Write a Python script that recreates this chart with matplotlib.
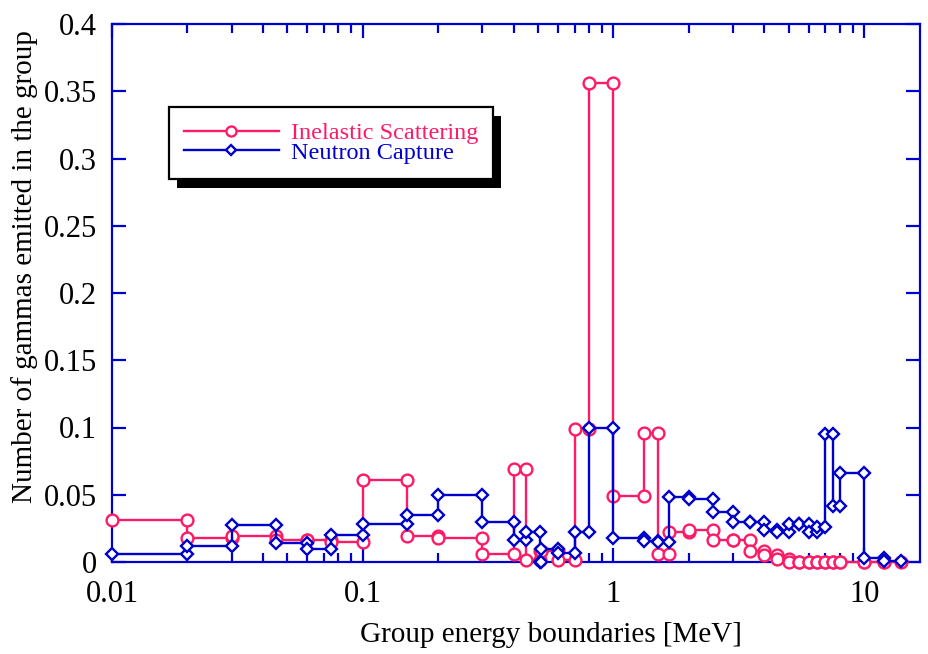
import numpy as np
import matplotlib
matplotlib.use('Agg')
import matplotlib.pyplot as plt
from matplotlib.patches import Rectangle
from matplotlib.ticker import FixedLocator, NullFormatter, FixedFormatter

# Group energy boundaries [MeV]
edges = [0.01, 0.02, 0.03, 0.045, 0.06, 0.075, 0.1, 0.15, 0.2, 0.3,
         0.4, 0.45, 0.51, 0.512, 0.6, 0.7, 0.8, 1.0,
         1.33, 1.5, 1.66, 2.0, 2.5, 3.0, 3.5, 4.0,
         4.5, 5.0, 5.5, 6.0, 6.5, 7.0, 7.5, 8.0,
         10.0, 12.0, 14.0]

# Number of gammas emitted in each group
inelastic = [0.031, 0.018, 0.019, 0.016, 0.016, 0.015, 0.061, 0.019, 0.0175, 0.006,
             0.069, 0.0015, 0.008, 0.008, 0.0015, 0.099, 0.356,
             0.049, 0.096, 0.006, 0.022, 0.0235, 0.016, 0.016, 0.008,
             0.005, 0.002, 0.0, 0.0, 0.0, 0.0, 0.0, 0.0,
             0.0, 0.0, 0.0]
capture = [0.006, 0.012, 0.0275, 0.0144, 0.0096, 0.020, 0.028, 0.035, 0.050, 0.030,
           0.0164, 0.0223, 0.0, 0.010, 0.0065, 0.0223, 0.0994,
           0.018, 0.0155, 0.015, 0.048, 0.047, 0.0374, 0.030, 0.030,
           0.024, 0.022, 0.028, 0.028, 0.022, 0.026, 0.095, 0.042,
           0.066, 0.0027, 0.0008]

labels = ['Inelastic Scattering', 'Neutron Capture']
xticks = [0.01, 0.1, 1, 10]
xticklabels = ['0.01', '0.1', '1', '10']
yticks = [0, 0.05, 0.1, 0.15, 0.2, 0.25, 0.3, 0.35, 0.4]
yticklabels = ['0', '0.05', '0.1', '0.15', '0.2', '0.25', '0.3', '0.35', '0.4']

PINK = '#ff1a66'
BLUE = '#0000cc'
SERIF = ['Liberation Serif', 'DejaVu Serif']

fig = plt.figure(figsize=(9.29, 6.54), dpi=100)
ax = fig.add_axes([112/929, 1-562/654, 808/929, 538/654])

def steps(e, v):
    e = np.asarray(e, float)
    v = np.asarray(v, float)
    xs = np.repeat(e, 2)[1:-1]
    ys = np.repeat(v, 2)
    return xs, ys

x1, y1 = steps(edges, inelastic)
x2, y2 = steps(edges, capture)

ax.plot(x1, y1, color=PINK, lw=1.7, marker='o', ms=8.5, mfc='white',
        mec=PINK, mew=1.7, clip_on=False, zorder=3, label=labels[0])
ax.plot(x2, y2, color=BLUE, lw=1.7, marker='D', ms=6.5, mfc='white',
        mec=BLUE, mew=1.7, clip_on=False, zorder=4, label=labels[1])

ax.set_xscale('log')
ax.set_xlim(0.01, 16.7)
ax.set_ylim(0, 0.4)

ax.xaxis.set_major_locator(FixedLocator(xticks))
ax.xaxis.set_major_formatter(FixedFormatter(xticklabels))
minors = [m * d for d in [0.01, 0.1, 1, 10] for m in range(2, 10)]
ax.xaxis.set_minor_locator(FixedLocator(minors))
ax.xaxis.set_minor_formatter(NullFormatter())
ax.yaxis.set_major_locator(FixedLocator(yticks))
ax.yaxis.set_major_formatter(FixedFormatter(yticklabels))

for s in ax.spines.values():
    s.set_color(BLUE)
    s.set_linewidth(1.6)

ax.tick_params(which='both', direction='in', color=BLUE, width=1.6,
               top=True, right=True, labelcolor='black')
ax.tick_params(which='major', length=10, labelsize=22)
ax.tick_params(which='minor', length=6.5)
ax.tick_params(axis='x', which='major', pad=13)
ax.tick_params(axis='y', which='major', pad=11)
for lab in ax.get_xticklabels() + ax.get_yticklabels():
    lab.set_family(SERIF)

ax.set_xlabel('Group energy boundaries [MeV]', fontsize=21, family=SERIF, va='center')
ax.xaxis.set_label_coords(0.543, -0.136)
ax.set_ylabel('Number of gammas emitted in the group', fontsize=21, family=SERIF, va='center')
ax.yaxis.set_label_coords(-0.108, 0.55)

leg = ax.legend(loc='upper left', bbox_to_anchor=((169-112)/808, (562-107)/538),
                borderaxespad=0, prop={'family': SERIF, 'size': 17.5},
                labelcolor=[PINK, BLUE], handlelength=3.9, handletextpad=0.5,
                labelspacing=-0.1, borderpad=0.62, fancybox=False, numpoints=1,
                framealpha=1, edgecolor='black')
leg.get_frame().set_linewidth(1.6)
leg.set_zorder(6)
for h in leg.get_lines():
    h.set_markersize(h.get_markersize() * 0.85)

fig.canvas.draw()
bb = leg.get_window_extent().transformed(fig.transFigure.inverted())
dx, dy = 8/929, 9/654
shadow = Rectangle((bb.x0 + dx, bb.y0 - dy), bb.width, bb.height,
                   transform=fig.transFigure, facecolor='black', edgecolor='none',
                   clip_on=False, zorder=5.9)
ax.add_patch(shadow)

fig.savefig('out.png', dpi=100)
